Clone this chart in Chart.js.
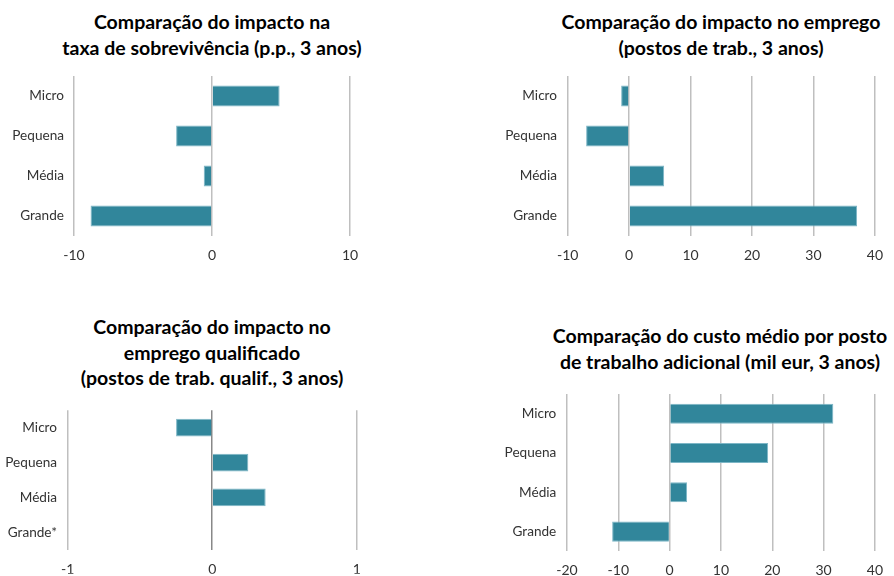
<!DOCTYPE html>
<html>
<head>
<meta charset="utf-8">
<script src="https://cdn.jsdelivr.net/npm/chart.js@4"></script>
<style>
  html, body { margin: 0; padding: 0; background: #fff; }
  body { width: 894px; height: 576px; position: relative; overflow: hidden; font-family: Lato, "Open Sans", sans-serif; }
  .box { position: absolute; width: 447px; height: 288px; }
  .title { position: absolute; width: 420px; text-align: center; font-weight: bold; font-size: 19.5px; line-height: 25.5px; color: #000; white-space: nowrap; }
</style>
</head>
<body>

<div class="title" style="left:2px; top:9px;">Comparação do impacto na<br>taxa de sobrevivência (p.p., 3 anos)</div>
<div class="title" style="left:511px; top:9px;">Comparação do impacto no emprego<br>(postos de trab., 3 anos)</div>
<div class="title" style="left:2px; top:314px;">Comparação do impacto no<br>emprego qualificado<br>(postos de trab. qualif., 3 anos)</div>
<div class="title" style="left:510px; top:323px;">Comparação do custo médio por posto<br>de trabalho adicional (mil eur, 3 anos)</div>

<div class="box" style="left:0; top:0;"><canvas id="survival"></canvas></div>
<div class="box" style="left:447px; top:0;"><canvas id="employment"></canvas></div>
<div class="box" style="left:0; top:288px;"><canvas id="qualified"></canvas></div>
<div class="box" style="left:447px; top:288px;"><canvas id="cost"></canvas></div>

<script>
const categories = ['Micro', 'Pequena', 'Média', 'Grande'];
const categoriesQualified = ['Micro', 'Pequena', 'Média', 'Grande*'];

const survivalValues = [4.9, -2.6, -0.6, -8.8];
const employmentValues = [-1.3, -7.0, 5.7, 37.1];
const qualifiedValues = [-0.25, 0.25, 0.37, null];
const costValues = [31.9, 19.2, 3.4, -11.2];

// x axis range: [min, max, step]
const survivalTicks = [-10, 10, 10];
const employmentTicks = [-10, 40, 10];
const qualifiedTicks = [-1, 1, 1];
const costTicks = [-20, 40, 10];

const barColor = '#31869B';
const barEdge = '#7DB6C6';
const gridColor = '#BFBFBF';
const textColor = '#333333';

function makeChart(id, labels, values, ticks, opts) {
  const ctx = document.getElementById(id);
  return new Chart(ctx, {
    type: 'bar',
    data: {
      labels: labels,
      datasets: [{
        data: values,
        backgroundColor: barColor,
        borderColor: barEdge,
        borderWidth: 1,
        categoryPercentage: 1,
        barPercentage: opts.barPct
      }]
    },
    options: {
      indexAxis: 'y',
      responsive: false,
      maintainAspectRatio: false,
      animation: false,
      layout: { padding: opts.padding },
      plugins: { legend: { display: false }, tooltip: { enabled: false } },
      scales: {
        x: {
          min: ticks[0],
          max: ticks[1],
          ticks: { stepSize: ticks[2], color: textColor, font: { family: 'Lato', size: 14 }, padding: 11 },
          grid: {
            drawTicks: false,
            lineWidth: 1.5,
            color: (c) => (c.tick && c.tick.value === 0 && opts.zeroColor) ? opts.zeroColor : gridColor
          },
          border: { display: false },
          afterFit: (s) => { s.height = opts.xHeight; }
        },
        y: {
          ticks: { color: textColor, font: { family: 'Lato', size: 13.6 }, padding: opts.yPad },
          grid: { display: false, drawTicks: false },
          border: { display: false },
          afterFit: (s) => { s.width = opts.yWidth; }
        }
      }
    }
  });
}

function sizeCanvas(id) {
  const c = document.getElementById(id);
  c.width = 447; c.height = 288;
  c.style.width = '447px'; c.style.height = '288px';
}
['survival', 'employment', 'qualified', 'cost'].forEach(sizeCanvas);

makeChart('survival', categories, survivalValues, survivalTicks, {
  barPct: 0.52, yWidth: 74, yPad: 10, xHeight: 30,
  padding: { left: 0, right: 97, top: 76, bottom: 22 }
});
makeChart('employment', categories, employmentValues, employmentTicks, {
  barPct: 0.52, yWidth: 120.7, yPad: 10.7, xHeight: 30,
  padding: { left: 0, right: 18.3, top: 76, bottom: 22 }
});
makeChart('qualified', categoriesQualified, qualifiedValues, qualifiedTicks, {
  barPct: 0.51, yWidth: 67.7, yPad: 10.7, xHeight: 24, zeroColor: '#888888',
  padding: { left: 0, right: 90.3, top: 122.3, bottom: 2.3 }
});
makeChart('cost', categories, costValues, costTicks, {
  barPct: 0.51, yWidth: 120, yPad: 10.7, xHeight: 24,
  padding: { left: 0, right: 16.3, top: 106, bottom: 0.7 }
});
</script>
</body>
</html>
